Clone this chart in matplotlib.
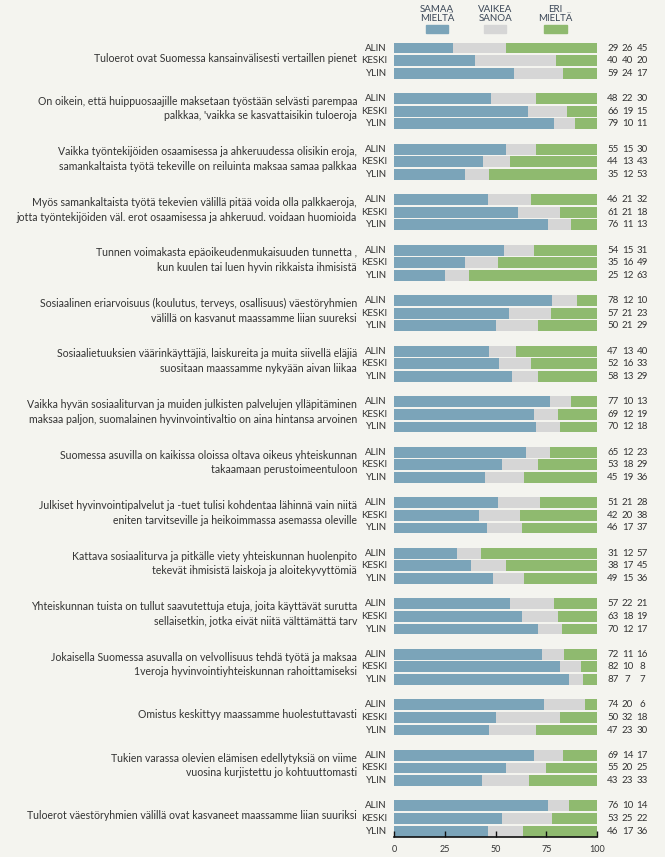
import matplotlib
matplotlib.use("Agg")
import matplotlib.pyplot as plt
import numpy as np

plt.rcParams['font.family'] = ['Lato', 'DejaVu Sans']

statements = [
    "Tuloerot ovat Suomessa kansainvälisesti vertaillen pienet",
    "On oikein, että huippuosaajille maksetaan työstään selvästi parempaa\npalkkaa, 'vaikka se kasvattaisikin tuloeroja",
    "Vaikka työntekijöiden osaamisessa ja ahkeruudessa olisikin eroja,\nsamankaltaista työtä tekeville on reiluinta maksaa samaa palkkaa",
    "Myös samankaltaista työtä tekevien välillä pitää voida olla palkkaeroja,\njotta työntekijöiden väl. erot osaamisessa ja ahkeruud. voidaan huomioida",
    "Tunnen voimakasta epäoikeudenmukaisuuden tunnetta ,\nkun kuulen tai luen hyvin rikkaista ihmisistä",
    "Sosiaalinen eriarvoisuus (koulutus, terveys, osallisuus) väestöryhmien\nvälillä on kasvanut maassamme liian suureksi",
    "Sosiaalietuuksien väärinkäyttäjiä, laiskureita ja muita siivellä eläjiä\nsuositaan maassamme nykyään aivan liikaa",
    "Vaikka hyvän sosiaaliturvan ja muiden julkisten palvelujen ylläpitäminen\nmaksaa paljon, suomalainen hyvinvointivaltio on aina hintansa arvoinen",
    "Suomessa asuvilla on kaikissa oloissa oltava oikeus yhteiskunnan\ntakaamaan perustoimeentuloon",
    "Julkiset hyvinvointipalvelut ja -tuet tulisi kohdentaa lähinnä vain niitä\neniten tarvitseville ja heikoimmassa asemassa oleville",
    "Kattava sosiaaliturva ja pitkälle viety yhteiskunnan huolenpito\ntekevät ihmisistä laiskoja ja aloitekyvyttömiä",
    "Yhteiskunnan tuista on tullut saavutettuja etuja, joita käyttävät surutta\nsellaisetkin, jotka eivät niitä välttämättä tarv",
    "Jokaisella Suomessa asuvalla on velvollisuus tehdä työtä ja maksaa\n1veroja hyvinvointiyhteiskunnan rahoittamiseksi",
    "Omistus keskittyy maassamme huolestuttavasti",
    "Tukien varassa olevien elämisen edellytyksiä on viime\nvuosina kurjistettu jo kohtuuttomasti",
    "Tuloerot väestöryhmien välillä ovat kasvaneet maassamme liian suuriksi",
]

groups = ["ALIN", "KESKI", "YLIN"]
categories = ["SAMAA\nMIELTÄ", "VAIKEA\nSANOA", "ERI\nMIELTÄ"]

# rows: statement x group, columns: samaa, vaikea, eri
samaa = [29, 40, 59, 48, 66, 79, 55, 44, 35, 46, 61, 76, 54, 35, 25, 78, 57, 50,
         47, 52, 58, 77, 69, 70, 65, 53, 45, 51, 42, 46, 31, 38, 49, 57, 63, 70,
         72, 82, 87, 74, 50, 47, 69, 55, 43, 76, 53, 46]
vaikea = [26, 40, 24, 22, 19, 10, 15, 13, 12, 21, 21, 11, 15, 16, 12, 12, 21, 21,
          13, 16, 13, 10, 12, 12, 12, 18, 19, 21, 20, 17, 12, 17, 15, 22, 18, 12,
          11, 10, 7, 20, 32, 23, 14, 20, 23, 10, 25, 17]
eri = [45, 20, 17, 30, 15, 11, 30, 43, 53, 32, 18, 13, 31, 49, 63, 10, 23, 29,
       40, 33, 29, 13, 19, 18, 23, 29, 36, 28, 38, 37, 57, 45, 36, 21, 19, 17,
       16, 8, 7, 6, 18, 30, 17, 25, 33, 14, 22, 36]

colors = ["#7ba4b9", "#d6d6d6", "#8fba6f"]
bg = "#f4f4ef"
txt = "#333333"

vals = np.array([samaa, vaikea, eri], dtype=float).T
share = vals / vals.sum(axis=1, keepdims=True) * 100

n = len(statements)
ypos = np.array([g * 4 + r for g in range(n) for r in range(3)])

fig = plt.figure(figsize=(6.65, 8.57), dpi=100, facecolor=bg)
ax = fig.add_axes([0.5925, 0.0233, 0.3053, 0.928])
ax.set_facecolor(bg)

left = np.zeros(len(ypos))
for k in range(3):
    ax.barh(ypos, share[:, k], left=left, height=0.86, color=colors[k],
            edgecolor="none")
    left += share[:, k]

ax.set_xlim(0, 100)
ax.set_ylim(n * 4 - 2 + 0.47, -0.5)
for s in ["top", "right", "left"]:
    ax.spines[s].set_visible(False)
ax.spines["bottom"].set_color("#111111")
ax.spines["bottom"].set_linewidth(1.2)
ax.set_yticks([])
ax.set_xticks([0, 25, 50, 75, 100])
ax.tick_params(axis="x", direction="in", length=4, width=1, colors="#111111",
               labelsize=6.5, pad=6, labelcolor=txt)

# group labels and numbers
for i, y in enumerate(ypos):
    ax.text(-3.5, y, groups[i % 3], ha="right", va="center", fontsize=7,
            color=txt)
    for k, xc in enumerate([107.8, 115.0, 122.2]):
        ax.text(xc, y, "%d" % vals[i, k], ha="center", va="center",
                fontsize=7, color=txt, clip_on=False)

# statements
for g, s in enumerate(statements):
    ax.text(-18.2, g * 4 + 1 - 0.2, s, ha="right", va="center", fontsize=7.6,
            color=txt, multialignment="right", linespacing=1.4, clip_on=False)

# legend on top
for k, xc in enumerate([21.2, 49.8, 79.6]):
    ax.text(xc, -2.72, categories[k], ha="center", va="center", fontsize=7,
            color="#3a4656", linespacing=1.0, clip_on=False)
    ax.add_patch(plt.Rectangle((xc - 5.6, -1.82), 11.2, 0.65, color=colors[k],
                               clip_on=False))

fig.savefig("out.png", dpi=100, facecolor=bg)
